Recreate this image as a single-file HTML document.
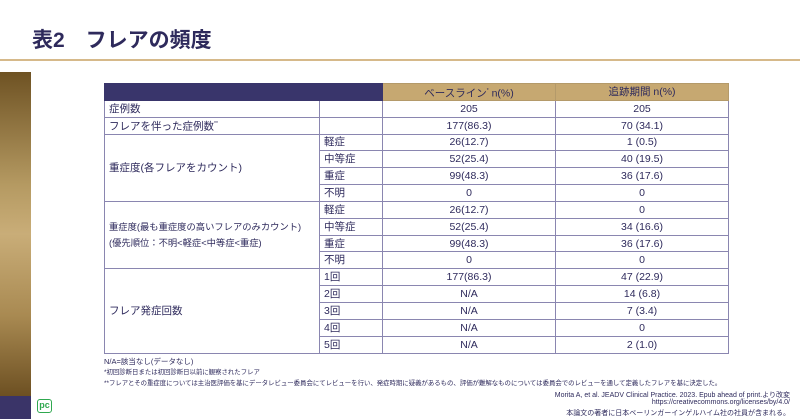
<!DOCTYPE html>
<html><head><meta charset="utf-8"><style>
*{margin:0;padding:0;box-sizing:border-box}
body{width:800px;height:419px;background:#fff;position:relative;overflow:hidden;font-family:"Liberation Sans","Noto Sans CJK JP",sans-serif;color:#2e2a5c}
.title{position:absolute;left:32px;top:24px;font-size:21px;font-weight:bold;color:#2e2a5c}
.hr{position:absolute;left:0;top:59px;width:800px;height:2px;background:#d6b98a}
.bar{position:absolute;left:0;top:72px;width:31px;height:324px;background:linear-gradient(#6e5223,#b59a62 35%,#c9ad78 50%,#a98a52 75%,#6d5022)}
.nav{position:absolute;left:0;top:396px;width:31px;height:23px;background:#3a3468}
.pc{position:absolute;left:37px;top:399px;width:15px;height:14px;border:1.5px solid #2fa84f;border-radius:3px;font-size:9px;font-weight:bold;color:#2fa84f;text-align:center;line-height:11px}
table{position:absolute;left:104px;top:83px;width:624px;border-collapse:collapse;font-size:10.5px;table-layout:fixed}
td{border:1px solid #8a86b0;height:16.85px;padding:0 4px;line-height:12px;white-space:nowrap;overflow:hidden}
td.c{text-align:center}
.h1{background:#39356b;border-color:#39356b}
.h2{background:#c6a871;color:#2e2a5c;text-align:center;border-color:#b49a6a}
.fn{position:absolute;left:104px;font-size:6.4px;color:#2e2a5c;white-space:nowrap}
.cite{position:absolute;right:10px;font-size:7px;text-align:right;color:#2e2a5c;white-space:nowrap}
</style></head><body>
<div class="title">表2　フレアの頻度</div>
<div class="hr"></div>
<div class="bar"></div><div class="nav"></div>
<div class="pc">pc</div>
<table>
<colgroup><col style="width:215px"><col style="width:63px"><col style="width:173px"><col style="width:173px"></colgroup>
<tr><td class="h1" colspan="2"></td><td class="h2">ベースライン<sup style="font-size:5px">*</sup> n(%)</td><td class="h2">追跡期間 n(%)</td></tr>
<tr><td>症例数</td><td></td><td class="c">205</td><td class="c">205</td></tr>
<tr><td>フレアを伴った症例数<sup style="font-size:5px">**</sup></td><td></td><td class="c">177(86.3)</td><td class="c">70 (34.1)</td></tr>
<tr><td rowspan="4">重症度(各フレアをカウント)</td><td>軽症</td><td class="c">26(12.7)</td><td class="c">1 (0.5)</td></tr>
<tr><td>中等症</td><td class="c">52(25.4)</td><td class="c">40 (19.5)</td></tr>
<tr><td>重症</td><td class="c">99(48.3)</td><td class="c">36 (17.6)</td></tr>
<tr><td>不明</td><td class="c">0</td><td class="c">0</td></tr>
<tr><td rowspan="4" style="line-height:16px;font-size:9.3px">重症度(最も重症度の高いフレアのみカウント)<br>(優先順位：不明&lt;軽症&lt;中等症&lt;重症)</td><td>軽症</td><td class="c">26(12.7)</td><td class="c">0</td></tr>
<tr><td>中等症</td><td class="c">52(25.4)</td><td class="c">34 (16.6)</td></tr>
<tr><td>重症</td><td class="c">99(48.3)</td><td class="c">36 (17.6)</td></tr>
<tr><td>不明</td><td class="c">0</td><td class="c">0</td></tr>
<tr><td rowspan="5">フレア発症回数</td><td>1回</td><td class="c">177(86.3)</td><td class="c">47 (22.9)</td></tr>
<tr><td>2回</td><td class="c">N/A</td><td class="c">14 (6.8)</td></tr>
<tr><td>3回</td><td class="c">N/A</td><td class="c">7 (3.4)</td></tr>
<tr><td>4回</td><td class="c">N/A</td><td class="c">0</td></tr>
<tr><td>5回</td><td class="c">N/A</td><td class="c">2 (1.0)</td></tr>
</table>
<div class="fn" style="top:356px;font-size:7.5px">N/A=該当なし(データなし)</div>
<div class="fn" style="top:367px">*初回診断日または初回診断日以前に観察されたフレア</div>
<div class="fn" style="top:378px">**フレアとその重症度については主治医評価を基にデータレビュー委員会にてレビューを行い、発症時期に疑義があるもの、評価が難解なものについては委員会でのレビューを通して定義したフレアを基に決定した。</div>
<div class="cite" style="top:390px">Morita A, et al. JEADV Clinical Practice. 2023. Epub ahead of print.より改変</div>
<div class="cite" style="top:399px">https://creativecommons.org/licenses/by/4.0/</div>
<div class="cite" style="top:408px">本論文の著者に日本ベーリンガーインゲルハイム社の社員が含まれる。</div>
</body></html>
